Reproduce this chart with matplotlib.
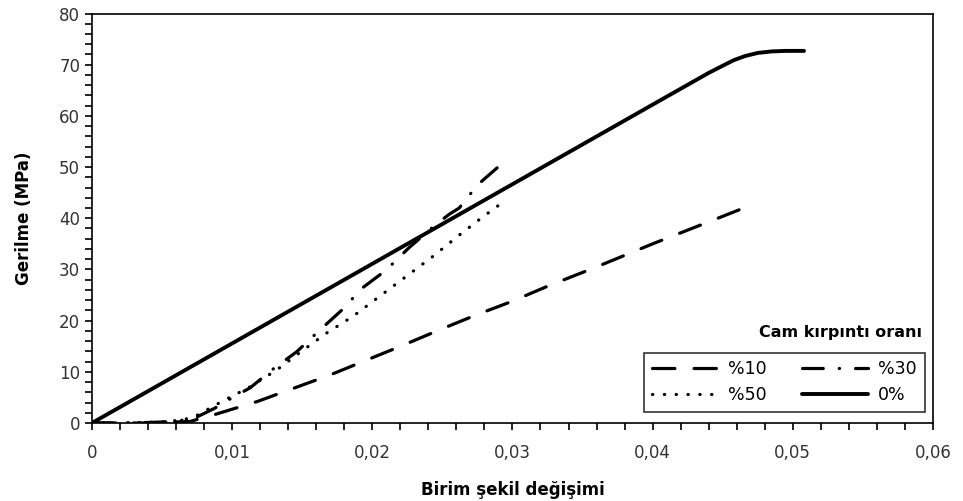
import matplotlib.pyplot as plt
from matplotlib.ticker import MultipleLocator, FuncFormatter

# strain / stress readings per series
x_10 = [0, 0.004, 0.007, 0.0087, 0.0118, 0.0144, 0.0170, 0.0196, 0.0222, 0.0248,
        0.0274, 0.0300, 0.0324, 0.0360, 0.0400, 0.0440, 0.0465]
y_10 = [0, 0, 0.3, 1.6, 4.2, 6.8, 9.4, 12.3, 15.2, 18.2, 21.1, 23.8, 26.6, 30.5,
        35.0, 39.3, 42.0]

x_30 = [0, 0.003, 0.006, 0.0075, 0.0087, 0.0098, 0.0113, 0.0129, 0.0146, 0.0160,
        0.0178, 0.0193, 0.0210, 0.0226, 0.0245, 0.0255, 0.0262, 0.0275, 0.0296]
y_30 = [0, 0, 0.3, 1.2, 2.8, 4.6, 6.9, 10.5, 13.9, 17.5, 22.0, 26.4, 29.9, 34.2,
        38.7, 40.8, 42.0, 46.5, 51.5]

x_50 = [0, 0.002, 0.005, 0.0065, 0.0075, 0.0090, 0.0113, 0.0132, 0.0148, 0.0167,
        0.0186, 0.0205, 0.0224, 0.0243, 0.0262, 0.0280, 0.0295]
y_50 = [0, 0, 0.2, 0.6, 1.5, 3.8, 7.1, 10.4, 13.7, 17.5, 20.8, 24.7, 28.6, 32.5,
        36.7, 40.5, 43.5]

x_0 = [0, 0.010, 0.020, 0.030, 0.040, 0.0440, 0.0450, 0.0458, 0.0466, 0.0475,
       0.0485, 0.0495, 0.0508]
y_0 = [0, 15.55, 31.1, 46.65, 62.2, 68.4, 69.8, 70.9, 71.7, 72.3, 72.6, 72.7, 72.7]

labels = ['%10', '%50', '%30', '0%']

plt.rcParams['font.family'] = ['DejaVu Sans']
fig = plt.figure(figsize=(9.63, 5.01), dpi=100)
ax = fig.add_axes([0.0955, 0.1557, 0.8733, 0.8173])

lw = 2.3
l10, = ax.plot(x_10, y_10, color='black', lw=lw, dashes=[7.0, 6.0], dash_capstyle='round')
l30, = ax.plot(x_30, y_30, color='black', lw=lw, dashes=[6.5, 5.0, 0.1, 5.0], dash_capstyle='round')
l50, = ax.plot(x_50, y_50, color='black', lw=lw, dashes=[0.1, 3.6], dash_capstyle='round')
l0, = ax.plot(x_0, y_0, color='black', lw=2.8, solid_capstyle='round', solid_joinstyle='round')

ax.set_xlim(0, 0.06)
ax.set_ylim(0, 80)
ax.xaxis.set_major_locator(MultipleLocator(0.01))
ax.xaxis.set_minor_locator(MultipleLocator(0.002))
ax.yaxis.set_major_locator(MultipleLocator(10))
ax.yaxis.set_minor_locator(MultipleLocator(2))
ax.xaxis.set_major_formatter(FuncFormatter(lambda v, p: '0' if abs(v) < 1e-9 else ('%.2f' % v).replace('.', ',')))
ax.tick_params(which='both', direction='out', length=5, width=1.2, labelsize=12,
               colors='black', labelcolor='#333333')
ax.tick_params(axis='x', pad=10)
for s in ax.spines.values():
    s.set_linewidth(1.2)

ax.set_xlabel('Birim şekil değişimi', fontsize=12, fontweight='bold', labelpad=14)
ax.set_ylabel('Gerilme (MPa)', fontsize=12, fontweight='bold', labelpad=19)

leg = ax.legend([l10, l50, l30, l0], labels, ncol=2, loc='lower right',
                bbox_to_anchor=(0.990, 0.027), fontsize=12.5, frameon=True, fancybox=False,
                edgecolor='black', handlelength=3.8, columnspacing=2.0, handletextpad=0.6,
                borderpad=0.45, labelspacing=0.45, borderaxespad=0.0)
leg.get_frame().set_linewidth(1.2)
ax.text(0.987, 0.22, 'Cam kırpıntı oranı', transform=ax.transAxes, ha='right', va='center',
        fontsize=11.5, fontweight='bold')

fig.savefig('out.png', dpi=100)
